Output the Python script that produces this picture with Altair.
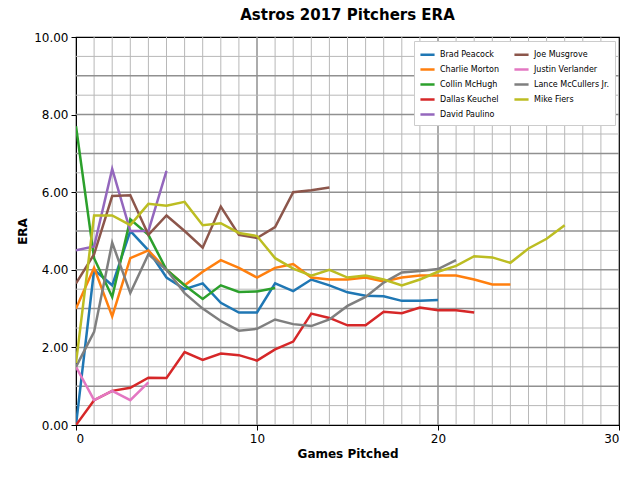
import altair as alt
import pandas as pd

games = list(range(0, 28))
brad = [0.0,4.0,3.6,5.0,4.5,3.8,3.5,3.65,3.15,2.9,2.9,3.65,3.45,3.75,3.6,3.42,3.33,3.32,3.2,3.2,3.22]
charlie = [3.0,4.05,2.8,4.3,4.5,4.0,3.6,3.95,4.25,4.05,3.8,4.05,4.15,3.8,3.75,3.75,3.8,3.7,3.8,3.85,3.85,3.85,3.75,3.62,3.62]
collin = [7.7,4.3,3.3,5.3,4.9,4.0,3.6,3.25,3.6,3.43,3.44,3.53]
dallas = [0.0,0.64,0.88,0.96,1.22,1.21,1.88,1.68,1.84,1.8,1.66,1.95,2.15,2.87,2.76,2.57,2.57,2.92,2.88,3.03,2.96,2.96,2.9]
david = [4.5,4.6,6.6,5.0,5.0,6.55]
joe = [3.65,4.4,5.9,5.92,4.9,5.4,5.0,4.57,5.63,4.9,4.82,5.1,6.0,6.05,6.12]
justin = [1.5,0.64,0.88,0.64,1.1]
lance = [1.5,2.4,4.7,3.4,4.4,4.0,3.4,3.0,2.68,2.43,2.48,2.72,2.6,2.55,2.72,3.07,3.3,3.67,3.93,3.97,4.02,4.25]
mike = [1.6,5.4,5.4,5.15,5.7,5.65,5.75,5.15,5.2,4.95,4.87,4.3,4.03,3.85,4.0,3.8,3.85,3.75,3.6,3.75,3.95,4.1,4.35,4.32,4.18,4.55,4.8,5.15]

series = [("Brad Peacock", brad), ("Charlie Morton", charlie), ("Collin McHugh", collin),
          ("Dallas Keuchel", dallas), ("David Paulino", david), ("Joe Musgrove", joe),
          ("Justin Verlander", justin), ("Lance McCullers Jr.", lance), ("Mike Fiers", mike)]
colors = ["#1f77b4","#ff7f0e","#2ca02c","#d62728","#9467bd","#8c564b","#e377c2","#7f7f7f","#bcbd22"]
names = [s[0] for s in series]

rows = []
for n, vals in series:
    for g, v in zip(games, vals):
        rows.append({"pitcher": n, "games": g, "era": v})
df = pd.DataFrame(rows)

xs = alt.Scale(domain=[0, 30], nice=False)
ys = alt.Scale(domain=[0, 10], nice=False)

vminor = pd.DataFrame({"v": [i for i in range(31) if i % 10]})
vmajor = pd.DataFrame({"v": [10, 20]})
hminor = pd.DataFrame({"v": [i + 0.5 for i in range(10)]})
hmajor = pd.DataFrame({"v": list(range(1, 10))})

g1 = alt.Chart(vminor).mark_rule(color="#b8b8b8", strokeWidth=1).encode(x=alt.X("v:Q", scale=xs))
g2 = alt.Chart(vmajor).mark_rule(color="#909090", strokeWidth=1.5).encode(x=alt.X("v:Q", scale=xs))
g3 = alt.Chart(hminor).mark_rule(color="#b8b8b8", strokeWidth=1).encode(y=alt.Y("v:Q", scale=ys))
g4 = alt.Chart(hmajor).mark_rule(color="#909090", strokeWidth=1.5).encode(y=alt.Y("v:Q", scale=ys))

lines = alt.Chart(df).mark_line(strokeWidth=2.5, clip=True).encode(
    x=alt.X("games:Q", scale=xs, title="Games Pitched",
            axis=alt.Axis(values=[0, 10, 20, 30], grid=False, format="d", labelOverlap=False)),
    y=alt.Y("era:Q", scale=ys, title="ERA",
            axis=alt.Axis(values=[i for i in range(11)], grid=False, format=".2f", labelOverlap=False)),
    color=alt.Color("pitcher:N", scale=alt.Scale(domain=names, range=colors),
                    legend=alt.Legend(title=None, orient="top-right", columns=2,
                                      symbolType="stroke", symbolStrokeWidth=2.5,
                                      labelFontSize=8, symbolSize=200,
                                      fillColor="white", strokeColor="#cccccc",
                                      padding=5, offset=4, columnPadding=10, rowPadding=1)),
    detail="pitcher:N",
)

chart = alt.layer(g1, g2, g3, g4, lines).properties(
    width=543, height=388,
    title=alt.TitleParams("Astros 2017 Pitchers ERA", fontSize=15, fontWeight="bold",
                          font="DejaVu Sans", offset=8),
).configure_axis(
    labelFont="DejaVu Sans", titleFont="DejaVu Sans", labelFontSize=12, titleFontSize=12,
    titleFontWeight="bold", domainColor="black", tickColor="black", labelColor="black",
    titleColor="black", labelPadding=3
).configure_legend(labelFont="DejaVu Sans").configure_view(stroke="black", strokeWidth=1.2
).properties(padding={"left": 8, "top": 0, "right": 5, "bottom": 5})

chart.save("out.html", embed_options={"renderer": "svg", "actions": False})
